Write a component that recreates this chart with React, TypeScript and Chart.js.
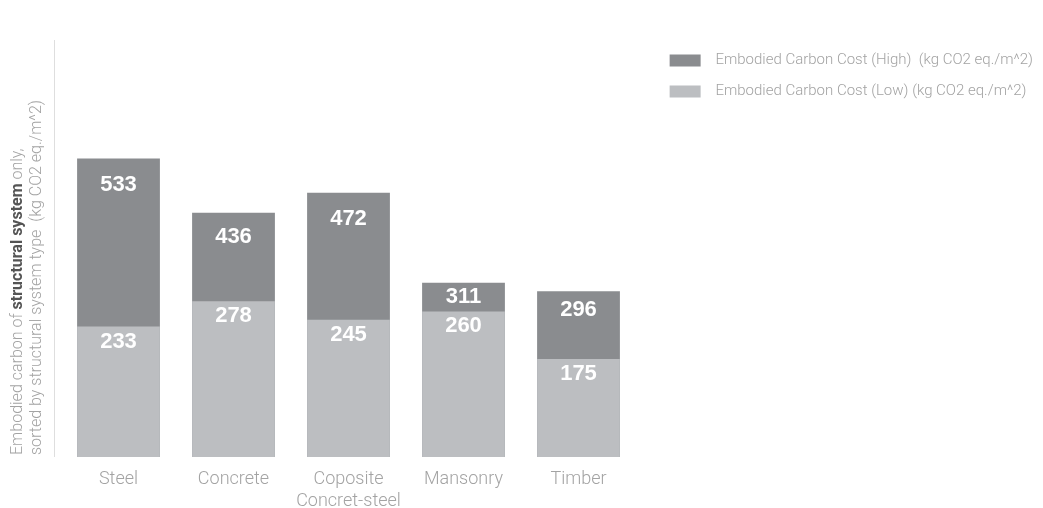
import React, { useEffect, useRef } from "react";
import { Chart, registerables } from "chart.js";

Chart.register(...registerables);

const categories: string[][] = [["Steel"], ["Concrete"], ["Coposite", "Concret-steel"], ["Mansonry"], ["Timber"]];
const highValues = [533, 436, 472, 311, 296];
const lowValues = [233, 278, 245, 260, 175];
const seriesLabels = [
  "Embodied Carbon Cost (High)  (kg CO2 eq./m^2)",
  "Embodied Carbon Cost (Low) (kg CO2 eq./m^2)",
];
const yMax = 750;
const yTitleLine1 = ["Embodied carbon of ", "structural system", " only,"];
const yTitleLine2 = "sorted by structural system type  (kg CO2 eq./m^2)";

const HIGH_COLOR = "#8a8c8f";
const LOW_COLOR = "#bcbec1";
const TEXT_COLOR = "#a3a3a3";
const FONT = "Roboto";

const decorPlugin = {
  id: "decor",
  afterDatasetsDraw(chart: any) {
    const ctx = chart.ctx;
    const area = chart.chartArea;
    const hi = chart.getDatasetMeta(0);
    const lo = chart.getDatasetMeta(1);
    ctx.save();
    ctx.fillStyle = "#ffffff";
    ctx.font = `bold 22px "Liberation Sans", Arial, sans-serif`;
    ctx.textAlign = "center";
    ctx.textBaseline = "middle";
    hi.data.forEach((bar: any, i: number) => {
      const seg = lo.data[i].y - bar.y;
      const off = Math.min(26, Math.max(14, seg * 0.27));
      ctx.fillText(String(highValues[i]), bar.x, bar.y + off);
    });
    lo.data.forEach((bar: any, i: number) => {
      ctx.fillText(String(lowValues[i]), bar.x, bar.y + 15);
    });
    ctx.restore();

    // vertical axis line
    ctx.save();
    ctx.strokeStyle = "#dedede";
    ctx.lineWidth = 1;
    ctx.beginPath();
    const lx = Math.round(area.left - 7) + 0.5;
    ctx.moveTo(lx, area.top + 3);
    ctx.lineTo(lx, area.bottom);
    ctx.stroke();
    ctx.restore();

    // y title (two rotated lines)
    ctx.save();
    ctx.textAlign = "left";
    ctx.textBaseline = "middle";
    ctx.translate(18, area.bottom - 2);
    ctx.rotate(-Math.PI / 2);
    let x = 0;
    yTitleLine1.forEach((seg, i) => {
      if (i === 1) {
        ctx.font = `bold 16px ${FONT}, sans-serif`;
        ctx.fillStyle = "#555555";
      } else {
        ctx.font = `300 16px ${FONT}, sans-serif`;
        ctx.fillStyle = TEXT_COLOR;
      }
      ctx.fillText(seg, x, 0);
      x += ctx.measureText(seg).width;
    });
    ctx.restore();
    ctx.save();
    ctx.textAlign = "left";
    ctx.textBaseline = "middle";
    ctx.translate(37, area.bottom - 2);
    ctx.rotate(-Math.PI / 2);
    ctx.font = `300 16px ${FONT}, sans-serif`;
    ctx.fillStyle = TEXT_COLOR;
    ctx.fillText(yTitleLine2, 0, 0);
    ctx.restore();
  },
};

export default function App() {
  const ref = useRef<HTMLCanvasElement | null>(null);
  useEffect(() => {
    if (!ref.current) return;
    const chart = new Chart(ref.current, {
      type: "bar",
      data: {
        labels: categories,
        datasets: [
          {
            label: seriesLabels[0],
            data: highValues,
            backgroundColor: HIGH_COLOR,
            order: 1,
            barPercentage: 0.72,
            categoryPercentage: 1,
          },
          {
            label: seriesLabels[1],
            data: lowValues,
            backgroundColor: LOW_COLOR,
            order: 0,
            barPercentage: 0.72,
            categoryPercentage: 1,
          },
        ],
      },
      options: {
        animation: false,
        responsive: false,
        maintainAspectRatio: false,
        layout: { padding: { top: 37, left: 0, right: 0, bottom: 0 } },
        plugins: {
          tooltip: { enabled: false },
          legend: {
            position: "right",
            align: "start",
            maxWidth: 420,
            labels: {
              boxWidth: 31,
              boxHeight: 12,
              padding: 16,
              color: TEXT_COLOR,
              font: { family: FONT, size: 15, weight: "300" as any },
              sort: (a: any, b: any) => a.datasetIndex - b.datasetIndex,
              generateLabels: (c: any) => {
                const items = Chart.defaults.plugins.legend.labels.generateLabels(c);
                return items.map((it: any) => ({ ...it, text: "  " + it.text, lineWidth: 0 }));
              },
            },
          },
        },
        scales: {
          x: {
            stacked: true,
            grid: { display: false, drawTicks: false },
            border: { display: false },
            ticks: {
              color: TEXT_COLOR,
              padding: 12,
              font: { family: FONT, size: 18, weight: "300" as any, lineHeight: 1.2 },
            },
            afterFit: (s: any) => {
              s.height = 51;
            },
          },
          y: {
            stacked: false,
            min: 0,
            max: yMax,
            grid: { display: false },
            border: { display: false },
            ticks: { display: false },
            afterFit: (s: any) => {
              s.width = 61;
            },
          },
          y2: {
            type: "linear",
            position: "right",
            grid: { display: false },
            border: { display: false },
            ticks: { display: false },
            afterFit: (s: any) => {
              const lw = s.chart.legend ? s.chart.legend.width : 0;
              s.width = Math.max(0, s.chart.width - lw - 636);
            },
          },
        },
      },
      plugins: [decorPlugin],
    });
    return () => chart.destroy();
  }, []);
  return (
    <div style={{ position: "fixed", left: 0, top: 0, width: 1043, height: 508, background: "#fff" }}>
      <canvas ref={ref} width={1043} height={508} style={{ width: 1043, height: 508, display: "block" }} />
    </div>
  );
}
